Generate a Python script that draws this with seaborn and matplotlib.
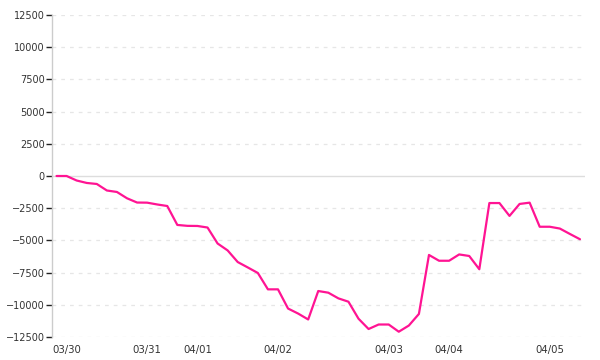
import matplotlib
matplotlib.use("Agg")
import matplotlib.pyplot as plt
import seaborn as sns
import pandas as pd
import numpy as np

# values (one point per sample, evenly spaced)
values = [0, 0, -350, -540, -620, -1125, -1240, -1730, -2060, -2070,
          -2210, -2330, -3800, -3870, -3880, -4000, -5240, -5780, -6680, -7100,
          -7530, -8800, -8800, -10290, -10680, -11140, -8930, -9060, -9500, -9760,
          -11080, -11880, -11530, -11530, -12090, -11610, -10710, -6130, -6580, -6580,
          -6090, -6210, -7240, -2100, -2100, -3100, -2170, -2070, -3940, -3940,
          -4080, -4500, -4910]
tick_index = [1, 9, 14, 22, 33, 39, 49]
tick_labels = ["03/30", "03/31", "04/01", "04/02", "04/03", "04/04", "04/05"]
y_ticks = [-12500, -10000, -7500, -5000, -2500, 0, 2500, 5000, 7500, 10000, 12500]

df = pd.DataFrame({"idx": np.arange(len(values)), "value": values})

sns.set_theme(style="white")
plt.rcParams["font.family"] = ["DejaVu Sans"]

fig = plt.figure(figsize=(6, 3.6), dpi=100)
ax = fig.add_axes([51.5 / 600, 23 / 360, (585 - 51.5) / 600, (337 - 15) / 360])

# grid
for yv in y_ticks:
    if yv == 0:
        ax.axhline(0, color="#dddddd", lw=1.0, zorder=1)
    else:
        ax.axhline(yv, color="#e6e6e6", lw=0.9, ls=(0, (3, 4)), zorder=1)

sns.lineplot(data=df, x="idx", y="value", ax=ax, color="#ff1493", lw=1.6, zorder=3)

ax.set_xlim(-0.5, 52.5)
ax.set_ylim(-12500, 12500)
ax.set_yticks(y_ticks)
ax.set_yticklabels([str(v).replace("-", "\u2212") for v in y_ticks])
ax.set_xticks(tick_index)
ax.set_xticklabels(tick_labels)
ax.set_xlabel("")
ax.set_ylabel("")

for s in ["top", "right", "bottom"]:
    ax.spines[s].set_visible(False)
ax.spines["left"].set_color("#cccccc")
ax.spines["left"].set_linewidth(1.0)

ax.tick_params(axis="y", which="both", left=True, length=4, width=1, color="#222222",
               labelsize=7, labelcolor="#333333", pad=1)
ax.tick_params(axis="x", which="both", bottom=False, length=0,
               labelsize=7.3, labelcolor="#333333", pad=6)

fig.savefig("out.png", dpi=100, facecolor="white")
